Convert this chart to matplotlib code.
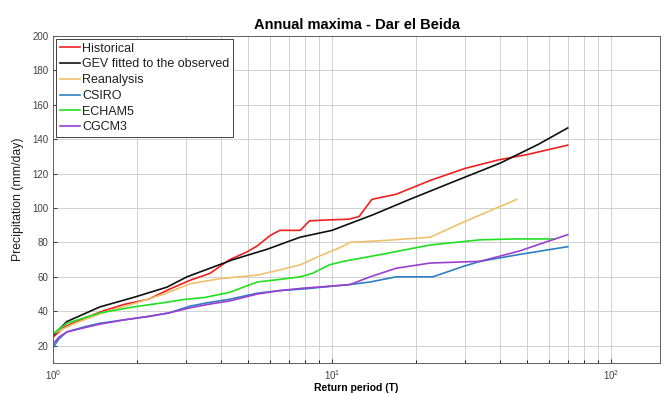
import matplotlib
matplotlib.use('agg')
import matplotlib.pyplot as plt
from matplotlib.ticker import LogLocator, FixedLocator, NullFormatter

plt.rcParams['font.family'] = ['Liberation Sans', 'DejaVu Sans']

# return periods (T) and annual maxima (mm/day)
hist_T = [1.0, 1.1, 1.3, 1.5, 1.8, 2.2, 2.63, 3.1, 3.65, 4.3, 4.96, 5.4, 6.0, 6.5,
          7.7, 8.3, 9.5, 11.5, 12.5, 13.9, 17, 22.5, 30, 39.7, 50, 70]
hist_P = [25, 31, 36, 40, 44, 47, 53, 58, 62, 70, 74.5, 78, 84, 87,
          87, 92.5, 93, 93.5, 95, 105, 108, 116, 123, 128, 131, 136.5]

gev_T = [1.0, 1.12, 1.47, 1.94, 2.56, 3.02, 4.42, 5.85, 7.68, 10, 14, 19, 28, 40, 55, 70]
gev_P = [26, 34, 42.5, 48, 54, 60, 70, 76, 83, 87, 96, 105, 116, 126, 137, 146.5]

rea_T = [1.0, 1.2, 1.5, 2.0, 2.5, 3.1, 4.0, 5.4, 6.5, 7.7, 9.0, 10.7, 11.6, 15,
         22.5, 28, 34, 46]
rea_P = [27, 33, 39, 45, 50, 56, 59, 61, 64, 67, 72, 77, 80, 81,
         83, 90, 96, 105]

csiro_T = [1.0, 1.05, 1.12, 1.3, 1.47, 1.8, 2.2, 2.6, 3.1, 3.6, 4.3, 5.4, 6.5, 8,
           10.7, 11.6, 13.7, 17, 23, 29.5, 34, 47, 70]
csiro_P = [19, 24, 28, 31, 33, 35, 37, 39, 43, 45, 47, 50.5, 52, 53,
           55, 55.5, 57, 60, 60, 66, 69, 73, 77.5]

echam_T = [1.0, 1.12, 1.47, 1.94, 2.5, 3.0, 3.5, 4.3, 5.0, 5.4, 6.5, 7.7, 8.5,
           9.8, 11, 15, 22.5, 34, 45, 63]
echam_P = [27, 33, 39, 42.5, 45, 47, 48, 51, 55, 57, 58.5, 60, 62,
           67, 69, 73, 78.5, 81.5, 82, 82]

cgcm_T = [1.0, 1.05, 1.12, 1.3, 1.47, 1.8, 2.2, 2.6, 3.1, 3.6, 4.3, 5.4, 6.5, 8,
          10.7, 11.6, 13.7, 17, 22.5, 34, 47, 70]
cgcm_P = [21, 25, 28, 30.5, 32.5, 35, 37, 39, 42, 44, 46, 50, 52, 53.5,
          55, 55.5, 60, 65, 68, 69, 75, 84.5]

series = [
    ('Historical', hist_T, hist_P, '#f02020'),
    ('GEV fitted to the observed', gev_T, gev_P, '#101010'),
    ('Reanalysis', rea_T, rea_P, '#f0c070'),
    ('CSIRO', csiro_T, csiro_P, '#2f7fc0'),
    ('ECHAM5', echam_T, echam_P, '#20e020'),
    ('CGCM3', cgcm_T, cgcm_P, '#9a40d0'),
]


def main():
    fig = plt.figure(figsize=(6.64, 3.94), dpi=100)
    ax = fig.add_axes([0.080, 0.079, 0.914, 0.830])

    for name, T, P, c in series:
        ax.plot(T, P, color=c, lw=1.2, label=name)

    ax.set_xscale('log')
    ax.set_xlim(1, 150)
    ax.set_ylim(10, 200)
    ax.yaxis.set_major_locator(FixedLocator(range(20, 201, 20)))
    ax.xaxis.set_major_locator(LogLocator(base=10))
    ax.xaxis.set_minor_locator(LogLocator(base=10, subs=range(2, 10)))
    ax.xaxis.set_minor_formatter(NullFormatter())

    ax.grid(True, which='major', color='#d0d0d0', lw=0.7)
    ax.grid(True, which='minor', axis='x', color='#d0d0d0', lw=0.7)
    ax.set_axisbelow(True)
    ax.tick_params(direction='in', labelsize=7, colors='#404040', length=3)
    ax.tick_params(which='minor', direction='in', length=2)
    for s in ax.spines.values():
        s.set_color('#606060')
        s.set_linewidth(0.7)

    ax.set_title('Annual maxima - Dar el Beida', fontsize=10.5, fontweight='bold', pad=5)
    ax.set_xlabel('Return period (T)', fontsize=7.5, fontweight='bold', labelpad=1)
    ax.set_ylabel('Precipitation (mm/day)', fontsize=8.8, labelpad=6, color='#202020')

    leg = ax.legend(loc='upper left', fontsize=9, handlelength=1.6, handletextpad=0.2,
                    labelspacing=0.3, borderpad=0.3, borderaxespad=0.25,
                    fancybox=False, framealpha=1)
    leg.get_frame().set_edgecolor('#404040')
    leg.get_frame().set_linewidth(0.7)
    for t in leg.get_texts():
        t.set_color('#202020')

    fig.savefig('out.png', dpi=100)


main()
